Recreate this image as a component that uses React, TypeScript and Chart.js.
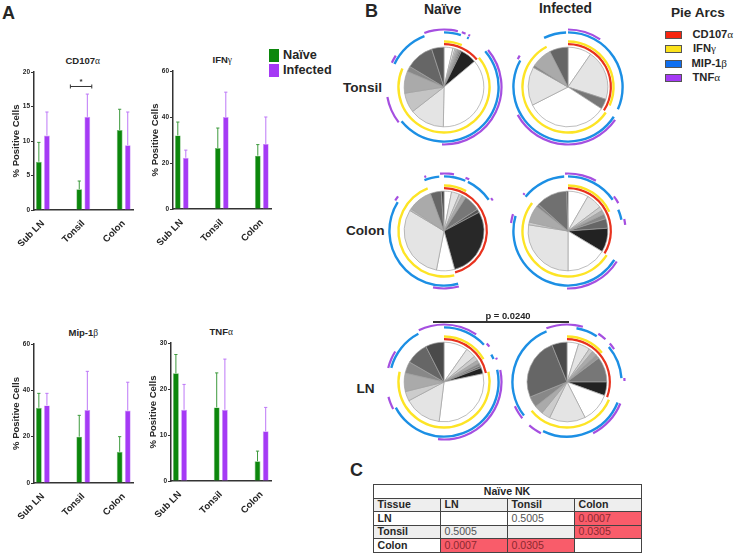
import React, { useEffect, useRef } from "react";
import { Chart, registerables } from "chart.js";

Chart.register(...registerables);

const FONT = "'Liberation Sans', Arial, sans-serif";
const INK = "#262626";

// ---- Panel A data ----
const tissues = ["Sub LN", "Tonsil", "Colon"];

const cd107Naive = [7.0, 3.0, 11.6];
const cd107NaiveTop = [9.8, 4.2, 14.6];
const cd107Infected = [10.8, 13.5, 9.4];
const cd107InfectedTop = [14.2, 16.8, 14.2];

const ifnNaive = [32, 26.5, 23.2];
const ifnNaiveTop = [37.8, 35.2, 28];
const ifnInfected = [22.3, 40, 28.3];
const ifnInfectedTop = [25.6, 50.8, 40];

const mipNaive = [32.5, 20, 13.5];
const mipNaiveTop = [38.7, 29.2, 20];
const mipInfected = [33.5, 31.5, 31.3];
const mipInfectedTop = [38.7, 48.2, 43.5];

const tnfNaive = [23.4, 16, 4.3];
const tnfNaiveTop = [27.5, 23.5, 6.5];
const tnfInfected = [15.5, 15.5, 10.8];
const tnfInfectedTop = [21, 26.5, 16];

// ---- Panel B data: slice end angles (degrees clockwise from the top) and arcs ----
const W = "#ffffff";
const L1 = "#e4e4e4";

const tonsilNaiveEdges = [13, 16, 18, 20, 22, 24, 26, 50, 181, 232, 261, 293, 301, 342, 360];
const tonsilNaiveShades = [W, "#eeeeee", "#dddddd", "#bbbbbb", "#999999", "#777777", "#555555", "#222222", W, L1, "#c4c4c4", "#aaaaaa", "#888888", "#666666", "#555555"];
const tonsilNaiveRed = [[0, 50]];
const tonsilNaiveYellow = [[0, 23], [50, 294]];
const tonsilNaiveBlue = [[0, 18], [25, 27], [49, 231], [295, 339]];
const tonsilNaivePurple = [[0, 14], [18, 22], [25, 27], [50, 182], [232, 260], [295, 303], [340, 360]];

const tonsilInfectedEdges = [34.5, 108, 123, 243, 299.5, 303, 333, 360];
const tonsilInfectedShades = [W, L1, "#777777", W, L1, "#888888", "#aaaaaa", "#666666"];
const tonsilInfectedRed = [[0, 123]];
const tonsilInfectedYellow = [[0, 114], [124, 332]];
const tonsilInfectedBlue = [[0, 114], [123, 299], [334, 358]];
const tonsilInfectedPurple = [[0, 34], [125, 241], [299, 303]];

const colonNaiveEdges = [11, 22.6, 27, 33, 57, 62, 164.5, 191, 301, 304, 340, 356, 360];
const colonNaiveShades = [W, L1, "#cccccc", "#aaaaaa", "#777777", "#555555", "#282828", W, L1, "#bbbbbb", "#aaaaaa", "#666666", "#444444"];
const colonNaiveRed = [[0, 165]];
const colonNaiveYellow = [[0, 29], [167, 339]];
const colonNaiveBlue = [[0, 23], [26, 55], [165, 302], [339, 355]];
const colonNaivePurple = [[0, 10], [22, 26], [55, 58], [165, 191], [302, 307], [340, 342], [356, 360]];

const colonInfectedEdges = [30, 53, 59, 65, 72, 86, 121, 180, 279, 283, 308, 312, 358, 360];
const colonInfectedShades = [W, L1, "#cccccc", "#aaaaaa", "#888888", "#666666", "#222222", W, L1, "#cccccc", "#aaaaaa", "#888888", "#707070", "#444444"];
const colonInfectedRed = [[0, 121.6]];
const colonInfectedYellow = [[0, 65], [122, 308]];
const colonInfectedBlue = [[0, 55], [67, 78], [122, 286], [309, 356]];
const colonInfectedPurple = [[0, 29], [53, 61], [78, 84], [122, 181], [278, 287], [309, 311], [357, 360]];

const lnNaiveEdges = [35, 50, 57, 62, 66, 69, 78, 187, 242, 256, 283, 300, 333, 360];
const lnNaiveShades = [W, L1, "#cccccc", "#aaaaaa", "#888888", "#666666", "#222222", W, L1, "#cccccc", "#aaaaaa", "#888888", "#666666", "#4a4a4a"];
const lnNaiveRed = [[0, 78]];
const lnNaiveYellow = [[0, 60], [77, 283]];
const lnNaiveBlue = [[0, 47], [60, 65], [77, 242], [285, 332]];
const lnNaivePurple = [[0, 34], [48, 52], [65, 67], [78, 186], [242, 255], [284, 302], [334, 360]];

const lnInfectedEdges = [17, 34, 40, 47, 53, 90, 110, 153, 206, 219, 232, 248, 338, 360];
const lnInfectedShades = [W, L1, "#cccccc", "#aaaaaa", "#999999", "#777777", "#222222", W, L1, "#cccccc", "#aaaaaa", "#888888", "#666666", "#4a4a4a"];
const lnInfectedRed = [[0, 110.6]];
const lnInfectedYellow = [[0, 50], [113, 231]];
const lnInfectedBlue = [[10, 33], [50, 86], [112, 206], [232, 338]];
const lnInfectedPurple = [[0, 16], [33, 42], [48, 55], [86, 89], [112, 153], [207, 221], [231, 245], [339, 360]];

// ---- Panel C data ----
const tableColumns = ["Tissue", "LN", "Tonsil", "Colon"];
const tableRows = [
  ["LN", "", "0.5005", "0.0007"],
  ["Tonsil", "0.5005", "", "0.0305"],
  ["Colon", "0.0007", "0.0305", ""],
];
const significant = ["0.0007", "0.0305"];

// ---- Colours ----
const RED = "#e8321e";
const YELLOW = "#fde425";
const BLUE = "#1c8fe4";
const PURPLE = "#a54fe0";
const GREEN_BAR = "#0c870c";
const GREEN_EDGE = "#6fb96f";
const PURPLE_BAR = "#a53af5";
const PURPLE_EDGE = "#cf9af9";

// ---- Plugins ----
const errorBarPlugin = {
  id: "errorBars",
  afterDatasetsDraw(chart: any) {
    const { ctx, scales } = chart;
    chart.data.datasets.forEach((ds: any, i: number) => {
      const bars = chart.getDatasetMeta(i).data;
      ds.errorTop.forEach((top: number, j: number) => {
        const x = bars[j].x;
        const y0 = scales.y.getPixelForValue(ds.data[j].y);
        const y1 = scales.y.getPixelForValue(top);
        ctx.save();
        ctx.strokeStyle = ds.errorColor;
        ctx.lineWidth = 1;
        ctx.beginPath();
        ctx.moveTo(x, y0);
        ctx.lineTo(x, y1);
        ctx.moveTo(x - 1.6, y1);
        ctx.lineTo(x + 1.6, y1);
        ctx.stroke();
        ctx.restore();
      });
    });
  },
};

const bracketPlugin = {
  id: "bracket",
  afterDatasetsDraw(chart: any, _a: any, opts: any) {
    if (!opts || !opts.span) return;
    const { ctx, scales } = chart;
    const x0 = scales.x.getPixelForValue(opts.span[0]);
    const x1 = scales.x.getPixelForValue(opts.span[1]);
    const y = scales.y.getPixelForValue(opts.level);
    ctx.save();
    ctx.strokeStyle = "#333";
    ctx.lineWidth = 1;
    ctx.beginPath();
    ctx.moveTo(x0, y);
    ctx.lineTo(x1, y);
    ctx.moveTo(x0, y - 2);
    ctx.lineTo(x0, y + 2);
    ctx.moveTo(x1, y - 2);
    ctx.lineTo(x1, y + 2);
    ctx.stroke();
    ctx.fillStyle = "#333";
    ctx.font = `bold 8px ${FONT}`;
    ctx.textAlign = "center";
    ctx.fillText("*", (x0 + x1) / 2, y - 2.5);
    ctx.restore();
  },
};

// ---- Bar chart ----
type BarProps = {
  left: number; right: number; top: number; bottom: number;
  max: number; step: number;
  naive: number[]; naiveTop: number[]; infected: number[]; infectedTop: number[];
  bracket?: { span: number[]; level: number };
};

const PAD_L = 26, PAD_R = 7, PAD_T = 6, PAD_B = 36;

function BarPanel(p: BarProps) {
  const ref = useRef<HTMLCanvasElement>(null);
  useEffect(() => {
    const toXY = (vals: number[]) => vals.map((y, x) => ({ x, y }));
    const chart = new Chart(ref.current as HTMLCanvasElement, {
      type: "bar",
      data: {
        datasets: [
          { label: "Naïve", data: toXY(p.naive), errorTop: p.naiveTop, errorColor: "#3d9a3d", backgroundColor: GREEN_BAR, borderColor: GREEN_EDGE, borderWidth: 0.7 } as any,
          { label: "Infected", data: toXY(p.infected), errorTop: p.infectedTop, errorColor: "#bd78f7", backgroundColor: PURPLE_BAR, borderColor: PURPLE_EDGE, borderWidth: 0.7 } as any,
        ],
      },
      plugins: [errorBarPlugin, bracketPlugin],
      options: {
        animation: false,
        responsive: false,
        events: [],
        layout: { padding: { top: PAD_T, right: PAD_R, left: 0, bottom: 0 } },
        datasets: { bar: { categoryPercentage: 0.4, barPercentage: 0.72 } },
        plugins: { legend: { display: false }, tooltip: { enabled: false }, bracket: p.bracket || {} } as any,
        scales: {
          x: {
            type: "linear",
            offset: false,
            min: -0.22,
            max: 2.23,
            afterFit: (s: any) => { s.height = PAD_B; },
            grid: { display: false, offset: false },
            border: { display: true, color: "#333", width: 1.5 },
            ticks: {
              stepSize: 1,
              includeBounds: false,
              autoSkip: false,
              minRotation: 45,
              maxRotation: 45,
              padding: 0,
              color: INK,
              font: { family: FONT, size: 9.5, weight: "bold" },
              callback: (v: any) => tissues[v as number] ?? "",
            },
          },
          y: {
            min: 0,
            max: p.max,
            afterFit: (s: any) => { s.width = PAD_L; },
            grid: { drawOnChartArea: false, drawTicks: true, tickLength: 3, color: "#333", lineWidth: 1 },
            border: { display: true, color: "#333", width: 1.5 },
            title: {
              display: true,
              text: "% Positive Cells",
              color: INK,
              padding: { top: 3, bottom: 0 },
              font: { family: FONT, size: 9.5, weight: "bold" },
            },
            ticks: {
              stepSize: p.step,
              padding: 1,
              color: INK,
              font: { family: FONT, size: 6.5, weight: "bold" },
            },
          },
        },
      } as any,
    });
    return () => chart.destroy();
  }, []);
  return (
    <canvas
      ref={ref}
      width={p.right - p.left + PAD_L + PAD_R}
      height={p.bottom - p.top + PAD_T + PAD_B}
      style={{ position: "absolute", left: p.left - PAD_L, top: p.top - PAD_T }}
    />
  );
}

// ---- Pie with arcs ----
function ring(arcs: number[][], color: string) {
  const data: number[] = [];
  const backgroundColor: string[] = [];
  let at = 0;
  arcs.forEach(([a, b]) => {
    if (a > at) {
      data.push(a - at);
      backgroundColor.push("rgba(0,0,0,0)");
    }
    data.push(b - a);
    backgroundColor.push(color);
    at = b;
  });
  if (at < 360) {
    data.push(360 - at);
    backgroundColor.push("rgba(0,0,0,0)");
  }
  return { data, backgroundColor, borderWidth: 0 };
}

const spacer = (weight: number) => ({ data: [1], backgroundColor: ["rgba(0,0,0,0)"], borderWidth: 0, weight });

type PieProps = {
  cx: number; cy: number;
  edges: number[]; shades: string[];
  red: number[][]; yellow: number[][]; blue: number[][]; purple: number[][];
};

function PiePanel(p: PieProps) {
  const ref = useRef<HTMLCanvasElement>(null);
  useEffect(() => {
    const sizes = p.edges.map((e, i) => e - (i ? p.edges[i - 1] : 0));
    const chart = new Chart(ref.current as HTMLCanvasElement, {
      type: "doughnut",
      data: {
        datasets: [
          { ...ring(p.purple, PURPLE), weight: 2.2 },
          spacer(0.6),
          { ...ring(p.blue, BLUE), weight: 2.4 },
          spacer(6.6),
          { ...ring(p.yellow, YELLOW), weight: 2.4 },
          spacer(0.4),
          { ...ring(p.red, RED), weight: 2.2 },
          spacer(1.9),
          { data: sizes, backgroundColor: p.shades, borderColor: "#a0a0a0", borderWidth: 0.7, weight: 39.7 },
        ] as any,
      },
      options: {
        animation: false,
        responsive: false,
        events: [],
        cutout: 0,
        radius: 58.6,
        plugins: { legend: { display: false }, tooltip: { enabled: false } },
      } as any,
    });
    return () => chart.destroy();
  }, []);
  return <canvas ref={ref} width={122} height={122} style={{ position: "absolute", left: p.cx - 61, top: p.cy - 61 }} />;
}

// ---- Text helpers ----
function Label({ x, y, size, children, weight = "bold", color = INK }: any) {
  return (
    <div style={{ position: "absolute", left: x, top: y, transform: "translateY(-50%)", fontFamily: FONT, fontSize: size, fontWeight: weight, color, lineHeight: 1, whiteSpace: "nowrap" }}>
      {children}
    </div>
  );
}
const Greek = ({ children }: any) => (
  <span style={{ fontFamily: "'Liberation Serif', serif", fontWeight: 400 }}>{children}</span>
);

const Swatch = ({ x, y, w, h, color, border }: any) => (
  <div style={{ position: "absolute", left: x, top: y, width: w, height: h, background: color, border: border || "none", boxSizing: "border-box" }} />
);

const arcLegend = [
  { name: "CD107", greek: "α", color: "#f7250f", y: 31, tx: 692.5 },
  { name: "IFN", greek: "γ", color: "#fbe21c", y: 45, tx: 693 },
  { name: "MIP-1", greek: "β", color: "#0f6ff0", y: 60, tx: 691.5 },
  { name: "TNF", greek: "α", color: "#a53af5", y: 74, tx: 692.5 },
];

// ---- Table ----
function PTable() {
  const cell: React.CSSProperties = { border: "1px solid #444", padding: "0 0 0 4px", height: 13.4, lineHeight: "11px", boxSizing: "border-box", overflow: "hidden", whiteSpace: "nowrap" };
  return (
    <table style={{ position: "absolute", left: 372.5, top: 484, width: 268, height: 68.5, borderCollapse: "collapse", tableLayout: "fixed", fontFamily: FONT, fontSize: 10.6, color: "#555", border: "1.2px solid #444" }}>
      <colgroup>
        <col style={{ width: 67 }} /><col style={{ width: 67 }} /><col style={{ width: 67 }} /><col style={{ width: 67 }} />
      </colgroup>
      <tbody>
        <tr>
          <td colSpan={4} style={{ ...cell, textAlign: "center", fontWeight: "bold", color: INK, padding: 0 }}>Naïve NK</td>
        </tr>
        <tr style={{ background: "#eeeeee" }}>
          {tableColumns.map((c) => <td key={c} style={{ ...cell, fontWeight: "bold", color: INK }}>{c}</td>)}
        </tr>
        {tableRows.map((r, i) => (
          <tr key={r[0]} style={{ background: i === 1 ? "#eeeeee" : "#ffffff" }}>
            {r.map((v, j) => (
              <td key={j} style={{
                ...cell,
                fontWeight: j === 0 ? "bold" : "normal",
                color: j === 0 ? INK : significant.includes(v) ? "#8c2a30" : "#555",
                background: significant.includes(v) ? "#f95c6a" : undefined,
              }}>{v}</td>
            ))}
          </tr>
        ))}
      </tbody>
    </table>
  );
}

export default function App() {
  return (
    <div style={{ position: "absolute", left: 0, top: 0, width: 737, height: 554, overflow: "hidden", background: "#fff", filter: "blur(0.35px)" }}>
      {/* Panel A */}
      <Label x={2} y={13} size={18}>A</Label>
      <Label x={65.5} y={60.5} size={9.5}>CD107<Greek>α</Greek></Label>
      <Label x={212.5} y={59.5} size={9.5}>IFN<Greek>γ</Greek></Label>
      <Label x={68.5} y={333} size={9.5}>Mip-1<Greek>β</Greek></Label>
      <Label x={209.5} y={331.5} size={9.5}>TNF<Greek>α</Greek></Label>

      <Swatch x={269} y={48.5} w={9.5} h={13.5} color={GREEN_BAR} />
      <Swatch x={269} y={63.5} w={9.5} h={13.5} color={PURPLE_BAR} />
      <Label x={283} y={55} size={12.7}>Naïve</Label>
      <Label x={283} y={70} size={12.7}>Infected</Label>

      <BarPanel left={34} right={133} top={72} bottom={210} max={20} step={5}
        naive={cd107Naive} naiveTop={cd107NaiveTop} infected={cd107Infected} infectedTop={cd107InfectedTop}
        bracket={{ span: [0.68, 1.21], level: 17.9 }} />
      <BarPanel left={173} right={271} top={71} bottom={209} max={60} step={20}
        naive={ifnNaive} naiveTop={ifnNaiveTop} infected={ifnInfected} infectedTop={ifnInfectedTop} />
      <BarPanel left={34} right={133} top={344} bottom={483} max={60} step={20}
        naive={mipNaive} naiveTop={mipNaiveTop} infected={mipInfected} infectedTop={mipInfectedTop} />
      <BarPanel left={171} right={271} top={343} bottom={481} max={30} step={10}
        naive={tnfNaive} naiveTop={tnfNaiveTop} infected={tnfInfected} infectedTop={tnfInfectedTop} />

      {/* Panel B */}
      <Label x={365} y={11} size={18}>B</Label>
      <Label x={424} y={9} size={14}>Naïve</Label>
      <Label x={539} y={9} size={13.8}>Infected</Label>
      <Label x={343} y={88} size={13.6}>Tonsil</Label>
      <Label x={346} y={231} size={13.6}>Colon</Label>
      <Label x={356.5} y={389} size={13.6}>LN</Label>

      <PiePanel cx={444} cy={87} edges={tonsilNaiveEdges} shades={tonsilNaiveShades} red={tonsilNaiveRed} yellow={tonsilNaiveYellow} blue={tonsilNaiveBlue} purple={tonsilNaivePurple} />
      <PiePanel cx={568} cy={87} edges={tonsilInfectedEdges} shades={tonsilInfectedShades} red={tonsilInfectedRed} yellow={tonsilInfectedYellow} blue={tonsilInfectedBlue} purple={tonsilInfectedPurple} />
      <PiePanel cx={444} cy={231} edges={colonNaiveEdges} shades={colonNaiveShades} red={colonNaiveRed} yellow={colonNaiveYellow} blue={colonNaiveBlue} purple={colonNaivePurple} />
      <PiePanel cx={568} cy={231} edges={colonInfectedEdges} shades={colonInfectedShades} red={colonInfectedRed} yellow={colonInfectedYellow} blue={colonInfectedBlue} purple={colonInfectedPurple} />
      <PiePanel cx={444} cy={382} edges={lnNaiveEdges} shades={lnNaiveShades} red={lnNaiveRed} yellow={lnNaiveYellow} blue={lnNaiveBlue} purple={lnNaivePurple} />
      <PiePanel cx={567} cy={382} edges={lnInfectedEdges} shades={lnInfectedShades} red={lnInfectedRed} yellow={lnInfectedYellow} blue={lnInfectedBlue} purple={lnInfectedPurple} />

      <Label x={485.5} y={315.5} size={9.4}>p = 0.0240</Label>
      <div style={{ position: "absolute", left: 433, top: 321, width: 136, height: 1.5, background: "#333" }} />

      {/* Pie legend */}
      <Label x={671} y={13} size={13.6}>Pie Arcs</Label>
      {arcLegend.map((a) => (
        <React.Fragment key={a.name}>
          <Swatch x={664.7} y={a.y} w={17} h={8} color={a.color} border="1px solid #555" />
          <Label x={a.tx} y={a.y + 3.5} size={11.2}>{a.name}<Greek>{a.greek}</Greek></Label>
        </React.Fragment>
      ))}

      {/* Panel C */}
      <Label x={350} y={469.5} size={18}>C</Label>
      <PTable />
    </div>
  );
}
